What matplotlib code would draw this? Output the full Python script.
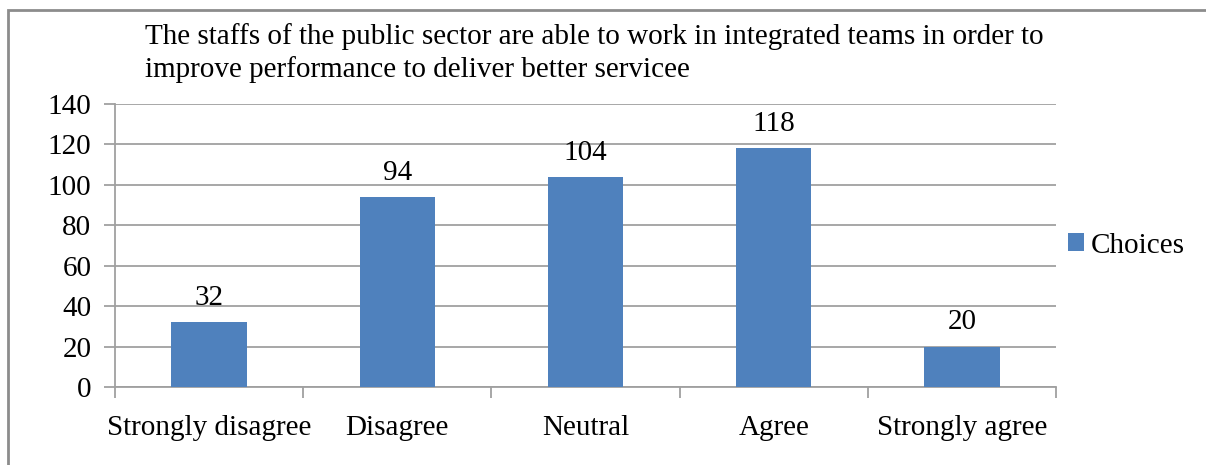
import matplotlib.pyplot as plt
from matplotlib.patches import Rectangle

### Survey responses ###
categories = ["Strongly disagree", "Disagree", "Neutral", "Agree", "Strongly agree"]
choices = [32, 94, 104, 118, 20]
y_ticks = [0, 20, 40, 60, 80, 100, 120, 140]
title = ("The staffs of the public sector are able to work in integrated teams in order to\n"
         "improve performance to deliver better servicee")

plt.rcParams["font.family"] = ["Liberation Serif", "DejaVu Serif"]
bar_color = "#4F81BD"
grid_color = "#A0A0A0"
fs = 21

fig = plt.figure(figsize=(12.06, 4.65), dpi=100)
W, H = 1206, 465

# chart frame (only top and left edges visible)
fig.patches.append(Rectangle((8 / W, -0.1), 1.2, 1 - 10 / H + 0.1, transform=fig.transFigure,
                             fill=False, edgecolor="#8C8C8C", linewidth=2))

ax = fig.add_axes([115 / W, 1 - 387 / H, (1056 - 115) / W, (387 - 104) / H])

x = range(len(categories))
bars = ax.bar(x, choices, width=0.4, color=bar_color, label="Choices", zorder=3)

for xi, v in zip(x, choices):
    ax.annotate(str(v), (xi, v), xytext=(0, 8), textcoords="offset points",
                ha="center", va="bottom", fontsize=fs)

ax.set_xlim(-0.5, len(categories) - 0.5)
ax.set_ylim(0, 140)
ax.set_yticks(y_ticks)
ax.set_yticklabels([str(t) for t in y_ticks], fontsize=fs)
ax.yaxis.grid(True, color=grid_color, linewidth=1.3, zorder=0)

ax.set_xticks(list(x))
ax.set_xticklabels(categories, fontsize=fs)
ax.tick_params(axis="x", length=0, pad=20)
ax.tick_params(axis="y", length=8, width=1.3, color=grid_color, pad=9)

# category boundary ticks below the axis
ax.set_xticks([i - 0.5 for i in range(len(categories) + 1)], minor=True)
ax.tick_params(axis="x", which="minor", length=8, width=1.3, color=grid_color)

for side in ["top", "right"]:
    ax.spines[side].set_visible(False)
for side in ["left", "bottom"]:
    ax.spines[side].set_color(grid_color)
    ax.spines[side].set_linewidth(1.3)

fig.text(145 / W, 1 - 23 / H, title, ha="left", va="top", fontsize=fs, linespacing=1.3)

ax.legend(loc="center left", bbox_to_anchor=(1.0, 0.5), frameon=False, fontsize=fs,
          handlelength=0.55, handleheight=0.55, handletextpad=0.25, borderaxespad=0.0)

fig.savefig("out.png", dpi=100)
